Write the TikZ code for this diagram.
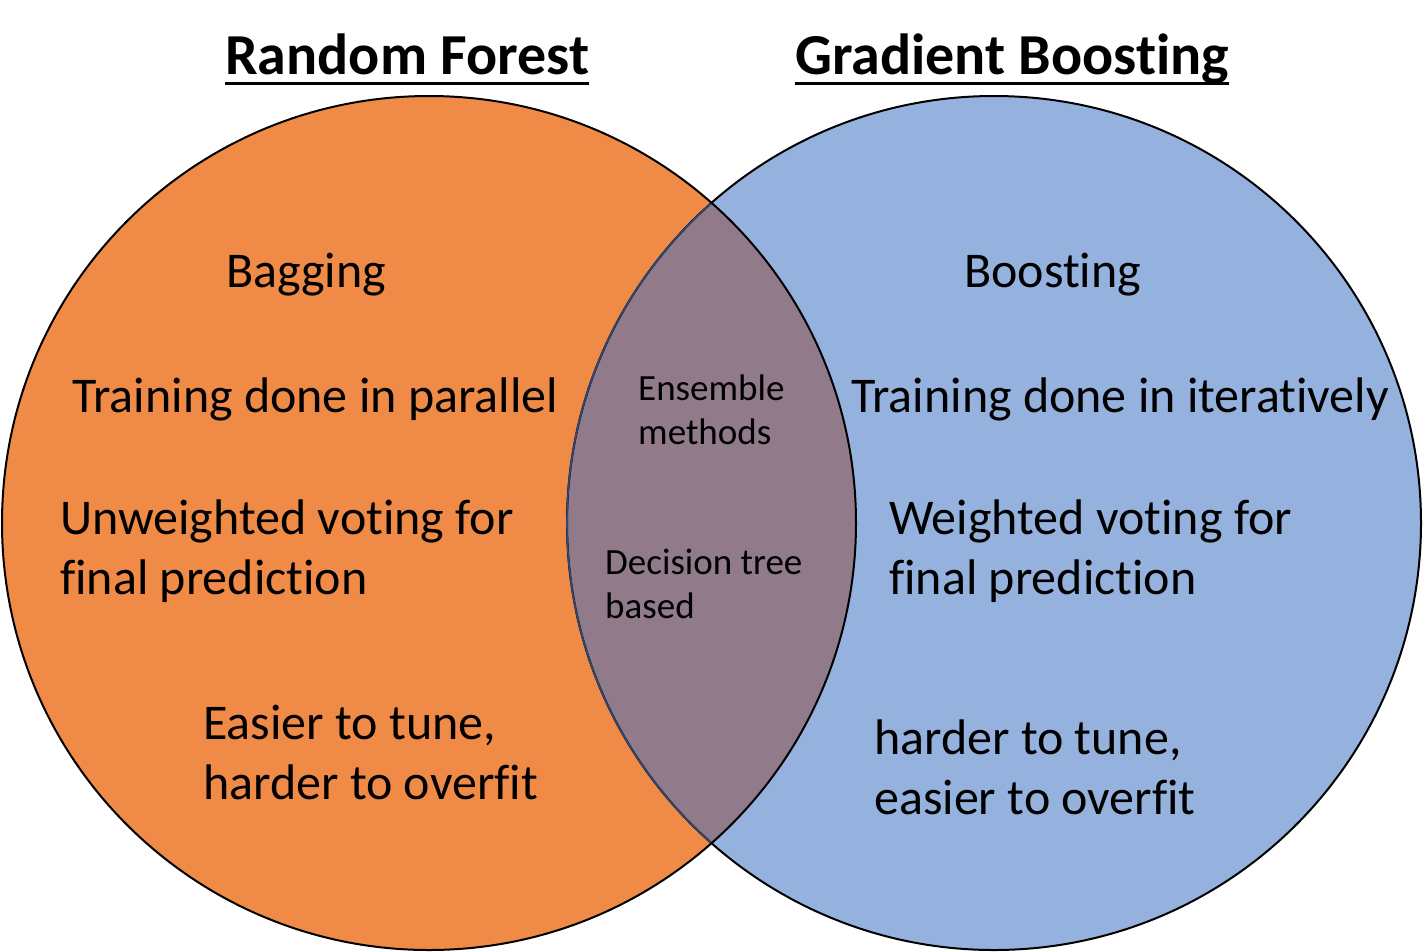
\documentclass[tikz,border=0pt]{standalone}
\usepackage{fontspec}
\setmainfont{Carlito}[Ligatures={NoCommon,NoContextual}]
\usetikzlibrary{positioning}
\definecolor{rforange}{HTML}{F08A47}
\definecolor{gbblue}{HTML}{95B2DE}
\definecolor{shared}{HTML}{917A8A}
\definecolor{rimnavy}{HTML}{2F4A78}
\tikzset{
  settitle/.style={font=\fontsize{58}{70}\selectfont\bfseries,inner sep=0pt,anchor=base west},
  titleline/.style={line width=3pt,black},
  trait/.style={font=\fontsize{50}{59.5}\selectfont,align=left,inner sep=0pt,anchor=base west},
  common/.style={font=\fontsize{37}{44}\selectfont,align=left,inner sep=0pt,anchor=base west},
  rim/.style={line width=2pt,black}
}

\begin{document}
\begin{tikzpicture}[x=1pt,y=-1pt]
    \useasboundingbox (0,0) rectangle (1423,951);
    \coordinate (rfc) at (429,523);
    \coordinate (gbc) at (994,523);
    \fill[rforange] (rfc) circle (427);
    \fill[gbblue] (gbc) circle (427);
    \begin{scope}
      \clip (rfc) circle (427);
      \fill[shared] (gbc) circle (427);
    \end{scope}
    \draw[rim] (gbc) circle (427);
    \begin{scope}
      \clip (rfc) circle (427);
      \draw[rim,rimnavy,line width=1.6pt] (gbc) circle (427);
    \end{scope}
    \draw[rim] (rfc) circle (427);

    \node[settitle] (rftitle) at (225,74) {Random Forest};
    \node[settitle] (gbtitle) at (795,74) {Gradient Boosting};
    \draw[titleline] ([yshift=-9pt]rftitle.base west) -- ([yshift=-9pt]rftitle.base east);
    \draw[titleline] ([yshift=-9pt]gbtitle.base west) -- ([yshift=-9pt]gbtitle.base east);

    \node[trait] (bagging) at (226,287) {Bagging};
    \node[trait] (parallel) at (72,412) {Training done in parallel};
    \node[trait] (unweighted) at (60,594) {Unweighted voting for\\final prediction};
    \node[trait] (easier) at (203,799) {Easier to tune,\\harder to overfit};

    \node[common] (ensemble) at (638,444) {Ensemble\\methods};
    \node[common] (dtree) at (605,618) {Decision tree\\based};

    \node[trait] (boosting) at (964,287) {Boosting};
    \node[trait] (iterative) at (851,412) {Training done in iteratively};
    \node[trait] (weighted) at (889,594) {Weighted voting for\\final prediction};
    \node[trait] (harder) at (874,814) {harder to tune,\\easier to overfit};
  \end{tikzpicture}
\end{document}
